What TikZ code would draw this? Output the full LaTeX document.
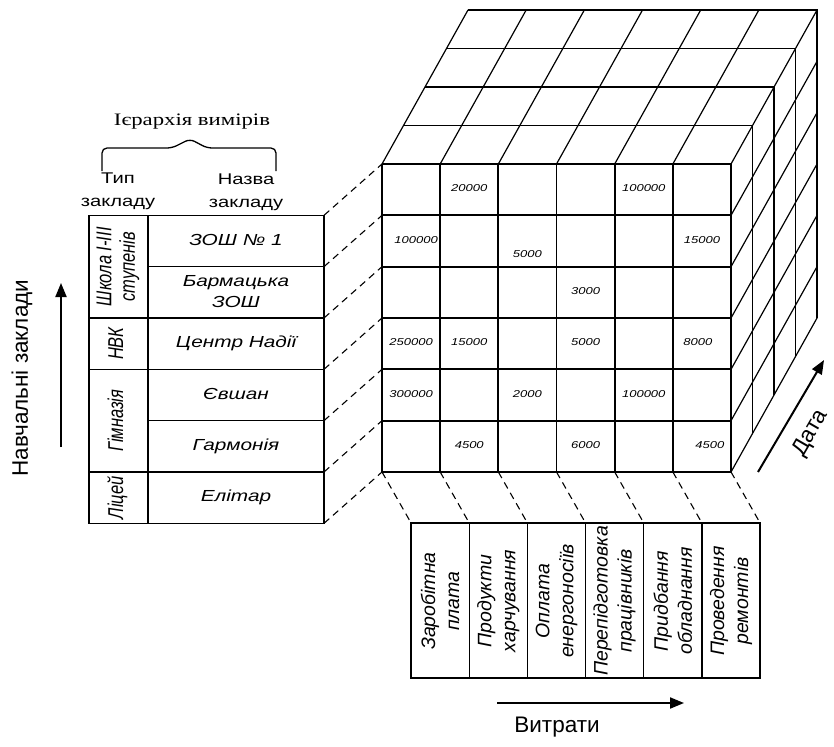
\documentclass[tikz,border=0pt]{standalone}
\usepackage{fontspec}
\setmainfont{Liberation Sans}
\newfontfamily\titlefont{Liberation Serif}
\usetikzlibrary{arrows.meta}

\newcommand\widetext[1]{\scalebox{1.3}[1]{\begin{tabular}{@{}c@{}}#1\end{tabular}}}
\newcommand\talltext[1]{\scalebox{1}[1.3]{\begin{tabular}{@{}c@{}}#1\end{tabular}}}

\begin{document}
\begin{tikzpicture}[x=1pt, y=-1pt,
  cubeline/.style={line width=1.2pt},
  frontline/.style={line width=1.7pt},
  tblline/.style={line width=1.4pt},
  dashlink/.style={line width=1.1pt, dash pattern=on 7pt off 5pt},
  numtext/.style={font=\itshape\fontsize{10}{11}\selectfont, inner sep=0pt},
  school/.style={font=\itshape\fontsize{16}{21}\selectfont, inner sep=0pt},
  kind/.style={font=\itshape\fontsize{16.5}{18}\selectfont, rotate=90, inner sep=0pt},
  cost/.style={font=\itshape\fontsize{19.5}{24}\selectfont, rotate=90, align=center, inner sep=0pt},
  axislabel/.style={font=\fontsize{22.5}{26}\selectfont, inner sep=0pt},
  axisarrow/.style={line width=2pt, -{Triangle[length=14pt,width=11pt]}}]

\useasboundingbox (0,0) rectangle (834,746);

\pgfmathsetmacro{\fx}{382}
\pgfmathsetmacro{\fy}{164}
\pgfmathsetmacro{\cw}{58.17}
\pgfmathsetmacro{\rh}{51.33}
\pgfmathsetmacro{\dx}{21.5}
\pgfmathsetmacro{\dy}{38.5}

% cube: top and right faces, then the front grid
\foreach \k in {1,...,4} \draw[cubeline] (\fx+\k*\dx,\fy-\k*\dy) -- ++(6*\cw,0) -- ++(0,6*\rh);
\foreach \j in {0,...,6} \draw[cubeline] (\fx+\j*\cw,\fy) -- ++(4*\dx,-4*\dy);
\foreach \i in {1,...,6} \draw[cubeline] (\fx+6*\cw,\fy+\i*\rh) -- ++(4*\dx,-4*\dy);
\foreach \i in {0,...,6} \draw[frontline] (\fx,\fy+\i*\rh) -- ++(6*\cw,0);
\foreach \j in {0,...,6} \draw[frontline] (\fx+\j*\cw,\fy) -- ++(0,6*\rh);

\foreach \c/\r/\v/\sx/\sy in {2/1/20000/0/0, 5/1/100000/0/0, 1/2/100000/5/0, 3/2/5000/0/14, 6/2/15000/0/0,
  4/3/3000/0/0, 1/4/250000/0/0, 2/4/15000/0/0, 4/4/5000/0/0, 6/4/8000/-4/0, 1/5/300000/0/0,
  3/5/2000/0/0, 5/5/100000/0/0, 2/6/4500/0/0, 4/6/6000/0/0, 6/6/4500/8/0}
  \node[numtext] (v\c\r) at (\fx+\c*\cw-0.5*\cw+\sx,\fy+\r*\rh-0.5*\rh+\sy) {\widetext{\v}};

% left table
\pgfmathsetmacro{\tl}{89}
\pgfmathsetmacro{\tm}{148}
\pgfmathsetmacro{\tr}{324}
\pgfmathsetmacro{\ty}{\fy+\rh}
\draw[tblline] (\tl,\ty) rectangle (\tr,\ty+6*\rh);
\draw[tblline] (\tm,\ty) -- (\tm,\ty+6*\rh);
\foreach \i in {2,3,5} \draw[tblline] (\tl,\ty+\i*\rh) -- (\tr,\ty+\i*\rh);
\foreach \i in {1,4} \draw[tblline] (\tm,\ty+\i*\rh) -- (\tr,\ty+\i*\rh);
\foreach \i in {0,...,6} {
  \coordinate (t\i) at (\tr,\ty+\i*\rh);
  \coordinate (f\i) at (\fx,\fy+\i*\rh);
  \draw[dashlink] (t\i) -- (f\i);
}

\pgfmathsetmacro{\nx}{(\tm+\tr)/2}
\pgfmathsetmacro{\kx}{(\tl+\tm)/2}
\foreach \t [count=\i] in {{ЗОШ № 1}, {Бармацька\\ЗОШ}, {Центр Надії}, {Євшан}, {Гармонія}, {Елітар}}
  \node[school] (s\i) at (\nx,\ty+\i*\rh-0.5*\rh) {\widetext{\t}};
\foreach \t/\r [count=\i] in {{Школа I-III\\ступенів}/1, {НВК}/2.5, {Гімназія}/4, {Ліцей}/5.5}
  \node[kind] (k\i) at (\kx,\ty+\r*\rh) {\talltext{\t}};

\node[font=\titlefont\fontsize{17.5}{21}\selectfont, inner sep=0pt] (title) at (192,121) {\widetext{Ієрархія вимірів}};
\draw[line width=1.3pt, rounded corners=5pt] (102,171) -- (102,148) -- (172,148) -- (190,139) -- (207,148) -- (276,148) -- (276,171);
\node[font=\fontsize{15.5}{23}\selectfont, inner sep=0pt] (typehead) at (118,190) {\widetext{Тип\\закладу}};
\node[font=\fontsize{15.5}{23}\selectfont, inner sep=0pt] (namehead) at (246,191) {\widetext{Назва\\закладу}};

% bottom table
\pgfmathsetmacro{\bx}{\fx+0.5*\cw}
\pgfmathsetmacro{\by}{523}
\draw[tblline] (\bx,\by) rectangle (\bx+6*\cw,\by+155);
\foreach \j in {1,...,5} \draw[tblline] (\bx+\j*\cw,\by) -- ++(0,155);
\foreach \j in {0,...,6} {
  \coordinate (c\j) at (\fx+\j*\cw,\fy+6*\rh);
  \coordinate (b\j) at (\bx+\j*\cw,\by);
  \draw[dashlink] (c\j) -- (b\j);
}
\foreach \t [count=\j] in {{Заробітна\\плата}, {Продукти\\харчування}, {Оплата\\енергоносіїв},
  {Перепідготовка\\працівників}, {Придбання\\обладнання}, {Проведення\\ремонтів}}
  \node[cost] (e\j) at (\bx+\j*\cw-0.5*\cw,601) {\t};

% axes
\node[axislabel, rotate=90] (schools) at (22,378) {Навчальні заклади};
\coordinate (sa) at (61,447);
\coordinate (sb) at (61,283);
\draw[axisarrow] (sa) -- (sb);
\node[axislabel] (costs) at (557,727) {Витрати};
\coordinate (ca) at (497,703);
\coordinate (cb) at (684,703);
\draw[axisarrow] (ca) -- (cb);
\node[axislabel, rotate=60] (date) at (811,433) {Дата};
\coordinate (da) at (758,472);
\coordinate (db) at (824,360);
\draw[axisarrow] (da) -- (db);

\end{tikzpicture}
\end{document}
